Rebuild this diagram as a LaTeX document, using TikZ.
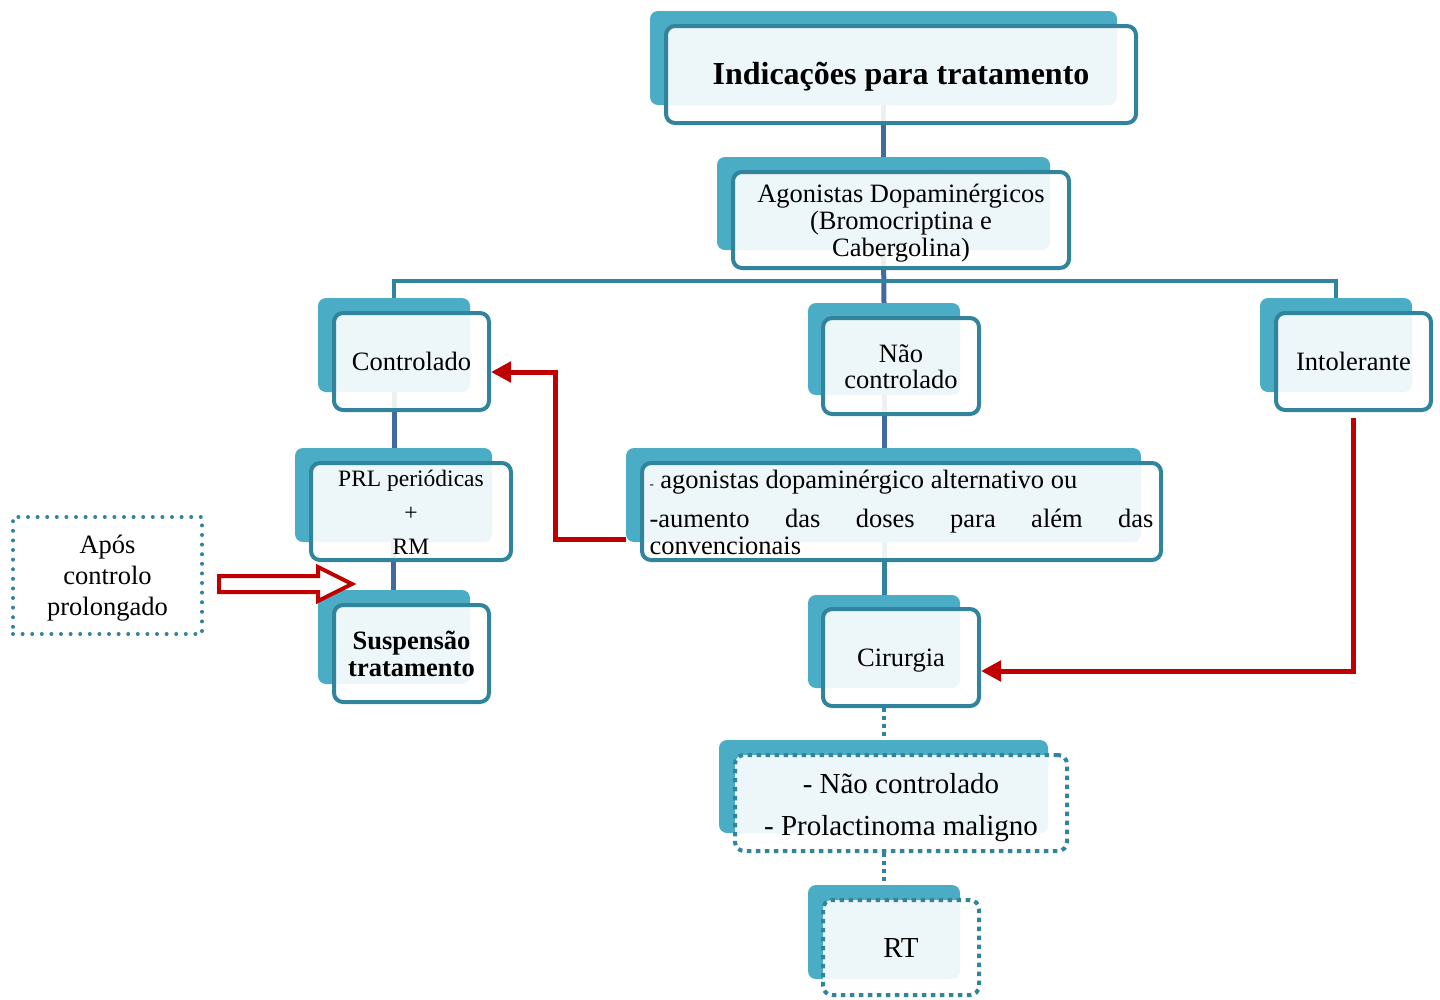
\documentclass[tikz,border=0pt]{standalone}
\usepackage{fontspec}
\setmainfont{Liberation Serif}
\usetikzlibrary{arrows.meta,calc}
\definecolor{backc}{RGB}{75,172,198}
\definecolor{bordc}{RGB}{49,132,155}
\definecolor{connb}{RGB}{66,105,160}
\definecolor{redc}{RGB}{192,0,0}
\pgfdeclarelayer{bg}
\pgfsetlayers{bg,main}
\tikzset{
 backbox/.style={fill=backc, rounded corners=8pt, inner sep=0pt, outer sep=0pt, draw=none},
 frontbox/.style={draw=bordc, line width=4pt, rounded corners=9pt, fill=white, fill opacity=0.9, text opacity=1, inner sep=0pt, align=center, font=\fontsize{26.5}{27}\selectfont},
 dotbox/.style={frontbox, dash pattern=on 4.5pt off 4.5pt},
 conn/.style={connb, line width=5pt},
 tconn/.style={bordc, line width=4pt},
 dconn/.style={bordc, line width=3.5pt, dash pattern=on 4pt off 4pt},
 redarrow/.style={redc, line width=5pt, -{Triangle[length=20pt,width=20pt]}},
}
\begin{document}
\begin{tikzpicture}[x=1pt,y=-1pt]
\useasboundingbox (0,0) rectangle (1440,999);
% title
\node[backbox, minimum width=467pt, minimum height=94pt] (t-b) at (883.5,58) {};
\node[frontbox, minimum width=470pt, minimum height=97pt, font=\fontsize{32}{32}\selectfont\bfseries, text height=19pt, text depth=0pt] (t) at (901,74.5) {Indicações para tratamento};
% agonistas
\node[backbox, minimum width=333pt, minimum height=93pt] (ag-b) at (883.5,203.5) {};
\node[frontbox, minimum width=336pt, minimum height=96pt, text height=73pt, text depth=0pt] (ag) at (901,220) {Agonistas Dopaminérgicos\\(Bromocriptina e\\Cabergolina)};
% controlado
\node[backbox, minimum width=152pt, minimum height=94pt] (ctrl-b) at (394,345) {};
\node[frontbox, minimum width=155pt, minimum height=97pt] (ctrl) at (411.5,361.5) {Controlado};
% nao controlado
\node[backbox, minimum width=152pt, minimum height=92pt] (nc-b) at (884,349) {};
\node[frontbox, minimum width=156pt, minimum height=96pt, font=\fontsize{26.5}{26}\selectfont, text height=45pt, text depth=0pt] (nc) at (901,366) {Não\\controlado};
% intolerante
\node[backbox, minimum width=152pt, minimum height=94pt] (intol-b) at (1336,345) {};
\node[frontbox, minimum width=155pt, minimum height=97pt] (intol) at (1353.5,361.5) {Intolerante};
% PRL
\node[backbox, minimum width=197pt, minimum height=94pt] (prl-b) at (393.5,495) {};
\node[frontbox, minimum width=200pt, minimum height=97pt, font=\fontsize{23.5}{34}\selectfont, text height=86pt, text depth=0pt] (prl) at (411,511.5) {PRL periódicas\\+\\RM};
% alternative
\node[backbox, minimum width=515pt, minimum height=94pt] (alt-b) at (883.5,495) {};
\node[frontbox, minimum width=519pt, minimum height=97pt, align=left, text width=504pt, text height=20pt, text depth=66pt] (alt) at (901.5,511.5) {\spaceskip=0pt\relax{\fontsize{13}{13}\selectfont -} agonistas dopaminérgico alternativo ou\\[12pt]\makebox[504pt][l]{-aumento\hfill das\hfill doses\hfill para\hfill além\hfill das}\\convencionais};
% suspensao
\node[backbox, minimum width=152pt, minimum height=94pt] (susp-b) at (394,637) {};
\node[frontbox, minimum width=155pt, minimum height=97pt, font=\fontsize{26.5}{27}\selectfont\bfseries] (susp) at (411.5,653.5) {Suspensão\\tratamento};
% cirurgia
\node[backbox, minimum width=152pt, minimum height=93pt] (cir-b) at (884,641.5) {};
\node[frontbox, minimum width=156pt, minimum height=97pt, text height=18pt, text depth=0pt] (cir) at (901,657.5) {Cirurgia};
% nao controlado / prolactinoma
\node[backbox, minimum width=329pt, minimum height=93pt] (ncpm-b) at (883.5,786.5) {};
\node[dotbox, minimum width=332pt, minimum height=96pt, font=\fontsize{29}{29}\selectfont, text height=65pt, text depth=0pt] (ncpm) at (901,803) {- Não controlado\\[13pt]- Prolactinoma maligno};
% RT
\node[backbox, minimum width=152pt, minimum height=94pt] (rt-b) at (884,932) {};
\node[dotbox, minimum width=156pt, minimum height=95pt, font=\fontsize{29}{29}\selectfont] (rt) at (901,947.5) {RT};
% apos
\node[draw=bordc, line width=4pt, dash pattern=on 0pt off 9.6pt, line cap=round, minimum width=189pt, minimum height=117pt, align=center, inner sep=0pt, font=\fontsize{26.5}{31}\selectfont, text height=80pt, text depth=0pt] (apos) at (107.5,575.5) {Após\\controlo\\prolongado};

\coordinate (hbar) at (884,281);
\begin{pgfonlayer}{bg}
\draw[conn] (t-b.south) -- (ag-b.north);
\draw[conn] (ag-b.south) -- (nc-b.north);
\draw[tconn] (ctrl-b.north) -- (ctrl-b.north |- hbar) -- (intol-b.north |- hbar) -- (intol-b.north);
\draw[conn] (ctrl-b.south) -- (ctrl-b.south |- prl-b.north);
\draw[conn] (nc-b.south) -- (nc-b.south |- alt-b.north);
\draw[conn] (prl-b.south) -- (prl-b.south |- susp-b.north);
\draw[tconn, line width=5pt] (alt-b.south -| cir-b.north) -- (cir-b.north);
\draw[dconn] (cir.south -| cir-b.south) -- (cir-b.south |- ncpm-b.north);
\draw[dconn] (ncpm.south -| rt-b.north) -- (rt-b.north);
\end{pgfonlayer}

\draw[redarrow] ($(alt-b.south west)+(0,-3)$) -| ($(ctrl.east)+(64,10.5)$) -- ($(ctrl.east)+(0,10.5)$);
\draw[redarrow] ($(intol.south)+(0,6)$) |- ($(cir.east)+(0,13.5)$);
\draw[redc, line width=4pt, fill=white] (219,576) -- (318,576) -- (318,567) -- (352,584) -- (318,601) -- (318,592) -- (219,592) -- cycle;
\end{tikzpicture}
\end{document}
